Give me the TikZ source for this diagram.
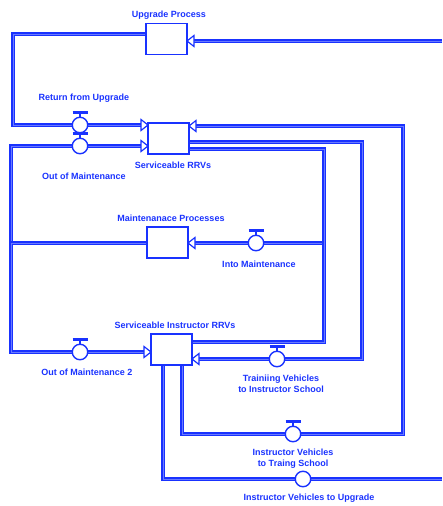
\documentclass[tikz,border=0pt]{standalone}
\usepackage{fontspec}
\setmainfont{Liberation Sans}
\definecolor{sdblue}{RGB}{25,50,255}
\tikzset{
  pipe/.style={draw=sdblue, line width=1.2pt, double=sdblue!65, double distance=0.9pt, line join=miter},
  stock/.style={draw=sdblue, line width=1.3pt, fill=white, minimum width=41pt, minimum height=31pt, inner sep=0pt},
  valve/.style={circle, draw=sdblue, line width=1.4pt, fill=white, minimum size=15.5pt, inner sep=0pt},
  lbl/.style={text=sdblue, font=\bfseries\fontsize{9}{11}\selectfont, align=center, inner sep=0pt},
  inR/.pic={\draw[sdblue, line width=1.2pt, fill=white, line join=miter] (0,0) -- (-7,-5.5) -- (-7,5.5) -- cycle;},
  inL/.pic={\draw[sdblue, line width=1.2pt, fill=white, line join=miter] (0,0) -- (7,-5.5) -- (7,5.5) -- cycle;},
  handle/.pic={\draw[sdblue, line width=2.2pt] (-7.5,-12.5) -- (7.5,-12.5);
               \draw[sdblue, line width=1.6pt] (0,-12.5) -- (0,-7);}
}
\begin{document}
\begin{tikzpicture}[x=1pt, y=-1pt]
\useasboundingbox (0,0) rectangle (442,506);

% stocks (positions)
\coordinate (upC) at (166.5,39);
\coordinate (rrvC) at (168.5,138.5);
\coordinate (mntC) at (167.5,242.5);
\coordinate (sirC) at (171.5,349.5);

% pipe end points
\coordinate (upW) at (146,34);
\coordinate (upE) at (187,41);
\coordinate (srcR) at (442,41);
\coordinate (rrvW1) at (148,125);
\coordinate (rrvW2) at (148,146);
\coordinate (rrvE1) at (189,126);
\coordinate (rrvE2) at (189,142);
\coordinate (rrvE3) at (189,149);
\coordinate (mntW) at (147,243);
\coordinate (mntE) at (188,243);
\coordinate (sirW) at (151,352);
\coordinate (sirE1) at (192,342);
\coordinate (sirE2) at (192,359);
\coordinate (sirS1) at (163,365);
\coordinate (sirS2) at (182,365);
\coordinate (sinkR) at (442,479);

% pipes
\draw[pipe] (upW) -- (13,34) -- (13,125) -- (rrvW1);
\draw[pipe] (srcR) -- (upE);
\draw[pipe] (mntW) -- (11,243) -- (11,146) -- (rrvW2);
\draw[pipe] (mntW) -- (11,243) -- (11,352) -- (sirW);
\draw[pipe] (rrvE3) -- (324,149) -- (324,243) -- (mntE);
\draw[pipe] (sirE1) -- (324,342) -- (324,243);
\draw[pipe] (rrvE2) -- (362,142) -- (362,359) -- (sirE2);
\draw[pipe] (sirS2) -- (182,434) -- (403,434) -- (403,126) -- (rrvE1);
\draw[pipe] (sirS1) -- (163,479) -- (sinkR);

% valves
\node[valve] (vRet) at (80,125) {};
\node[valve] (vOut) at (80,146) {};
\node[valve] (vInto) at (256,243) {};
\node[valve] (vOut2) at (80,352) {};
\node[valve] (vTrain) at (277,359) {};
\node[valve] (vInstr) at (293,434) {};
\node[valve] (vUpg) at (303,479) {};
\pic at (vRet) {handle};
\pic at (vOut) {handle};
\pic at (vInto) {handle};
\pic at (vOut2) {handle};
\pic at (vTrain) {handle};
\pic at (vInstr) {handle};

% stocks
\node[stock] (up) at (upC) {};
\node[stock] (rrv) at (rrvC) {};
\node[stock] (mnt) at (mntC) {};
\node[stock] (sir) at (sirC) {};

% arrowheads
\pic at (upE) {inL};
\pic at (rrvW1) {inR};
\pic at (rrvW2) {inR};
\pic at (rrvE1) {inL};
\pic at (mntE) {inL};
\pic at (sirW) {inR};
\pic at (sirE2) {inL};

% labels
\node[lbl] (lUp) at (169,15) {Upgrade Process};
\node[lbl] (lRet) at (84,98) {Return from Upgrade};
\node[lbl] (lRrv) at (173,165.5) {Serviceable RRVs};
\node[lbl] (lOut) at (84,176) {Out of Maintenance};
\node[lbl] (lMnt) at (171,218) {Maintenanace Processes};
\node[lbl] (lInto) at (259,264) {Into Maintenance};
\node[lbl] (lSir) at (175,325.5) {Serviceable Instructor RRVs};
\node[lbl] (lOut2) at (87,372) {Out of Maintenance 2};
\node[lbl] (lTrain) at (281,384) {Trainiing Vehicles\\to Instructor School};
\node[lbl] (lInstr) at (293,458.5) {Instructor Vehicles\\to Traing School};
\node[lbl] (lUpg) at (309,498.5) {Instructor Vehicles to Upgrade};
\end{tikzpicture}
\end{document}
